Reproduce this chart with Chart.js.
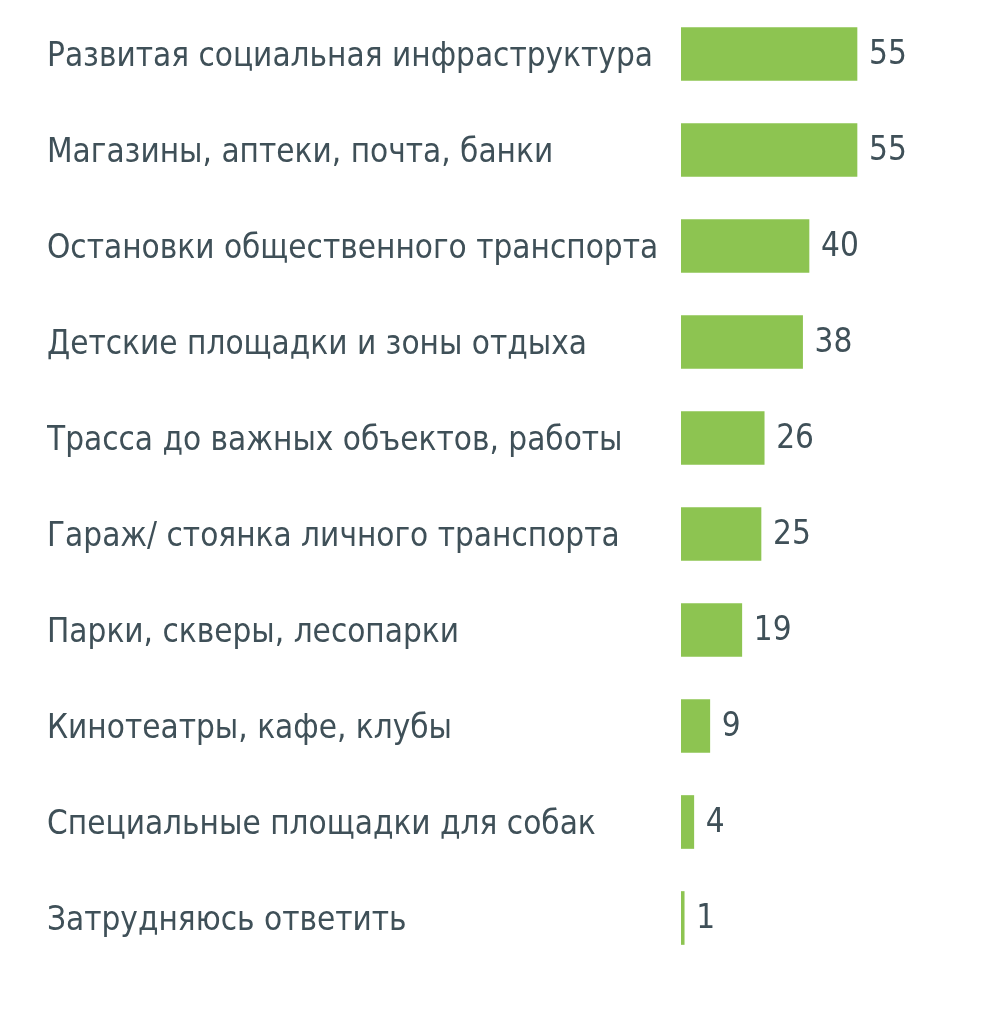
<!DOCTYPE html>
<html>
<head>
<meta charset="utf-8">
<script src="https://cdn.jsdelivr.net/npm/chart.js@4.4.0/dist/chart.umd.min.js"></script>
<style>
	html, body { margin: 0; padding: 0; background: #fff; }
	#wrap { width: 1005px; height: 1034px; position: relative; }
</style>
</head>
<body>
<div id="wrap"><canvas id="chart"></canvas></div>
<script>
// Categories and values
const categories = [
	'Развитая социальная инфраструктура',
	'Магазины, аптеки, почта, банки',
	'Остановки общественного транспорта',
	'Детские площадки и зоны отдыха',
	'Трасса до важных объектов, работы',
	'Гараж/ стоянка личного транспорта',
	'Парки, скверы, лесопарки',
	'Кинотеатры, кафе, клубы',
	'Специальные площадки для собак',
	'Затрудняюсь ответить'
];
const values = [55, 55, 40, 38, 26, 25, 19, 9, 4, 1];

const textColor = '#3f5058';
const barColor = '#8dc451';
const fontFamily = '"DejaVu Sans Condensed", "DejaVu Sans", Verdana, sans-serif';

// Draw the value next to the end of each bar
const valueLabels = {
	id: 'valueLabels',
	afterDatasetsDraw(chart) {
		const ctx = chart.ctx;
		const meta = chart.getDatasetMeta(0);
		ctx.save();
		ctx.font = '33px ' + fontFamily;
		ctx.fillStyle = textColor;
		ctx.textAlign = 'left';
		ctx.textBaseline = 'middle';
		meta.data.forEach((bar, i) => {
			ctx.fillText(values[i], bar.x + 12, bar.y + 1);
		});
		ctx.restore();
	}
};

new Chart(document.getElementById('chart'), {
	type: 'bar',
	data: {
		labels: categories,
		datasets: [{
			data: values,
			backgroundColor: barColor,
			borderWidth: 0,
			barThickness: 53
		}]
	},
	options: {
		indexAxis: 'y',
		responsive: true,
		maintainAspectRatio: false,
		animation: false,
		layout: {
			padding: { left: 47, right: 4, top: 6, bottom: 68 }
		},
		scales: {
			x: {
				display: false,
				min: 0,
				max: 100
			},
			y: {
				grid: { display: false },
				border: { display: false },
				ticks: {
					crossAlign: 'far',
					labelOffset: 3,
					color: textColor,
					font: { family: fontFamily, size: 33 }
				},
				afterFit(scale) {
					scale.width = 681 - 47;
					scale.paddingTop = 0;
					scale.paddingBottom = 0;
				}
			}
		},
		plugins: {
			legend: { display: false },
			tooltip: { enabled: false }
		}
	},
	plugins: [valueLabels]
});
</script>
</body>
</html>
